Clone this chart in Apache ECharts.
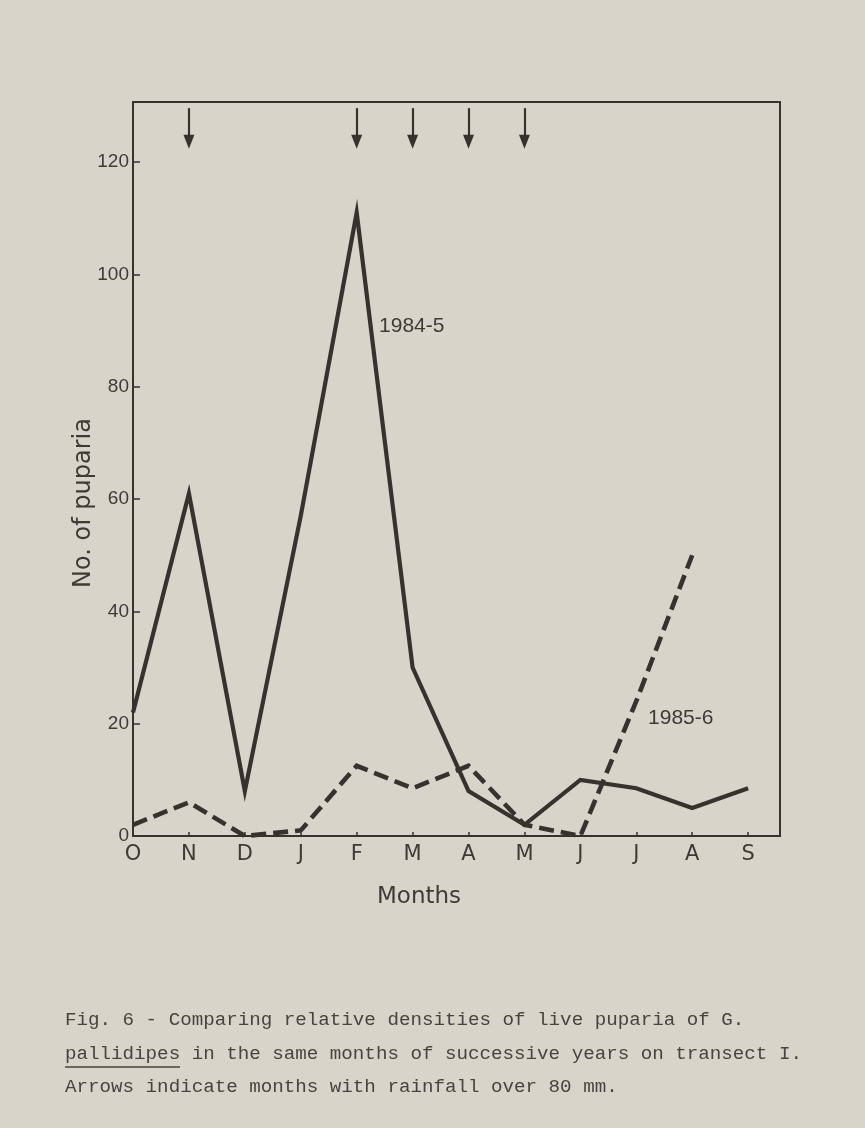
<!DOCTYPE html>
<html>
<head>
<meta charset="utf-8">
<script src="https://cdn.jsdelivr.net/npm/echarts@6/dist/echarts.min.js"></script>
<style>
  html, body { margin: 0; padding: 0; background: #d9d4ca; }
  #chart { width: 865px; height: 1128px; }
</style>
</head>
<body>
<div id="chart"></div>
<script>
// Month categories, October to September
const months = ['O', 'N', 'D', 'J', 'F', 'M', 'A', 'M', 'J', 'J', 'A', 'S'];
// Live puparia counts, 1984-5 season
const counts1984 = [22, 61, 8, 57, 111, 30, 8, 2, 10, 8.5, 5, 8.5];
// Live puparia counts, 1985-6 season (no September value)
const counts1985 = [2, 6, 0, 1, 12.5, 8.5, 12.5, 2, 0, 24, 50, null];
// Months with rainfall over 80 mm (index into months)
const rainMonths = [1, 4, 5, 6, 7];
// Y axis tick values
const yTicks = [0, 20, 40, 60, 80, 100, 120];
// Series labels and where they sit (data coords)
const seriesNames = ['1984-5', '1985-6'];
const seriesLabelAt = [[4.4, 90.8], [9.21, 21]];

const ink = '#37322e';
const textInk = '#3f3a36';
const sansFont = 'DejaVu Sans';

const chart = echarts.init(document.getElementById('chart'), null, { renderer: 'canvas' });

// Rainfall arrows drawn as short downward lines above each month
const arrowLines = rainMonths.map(m => [
  { coord: [m, 129.6] },
  { coord: [m, 123.6] }
]);

chart.setOption({
  backgroundColor: '#d9d4ca',
  animation: false,
  grid: {
    left: 133, right: 85, top: 102, bottom: 292,
    show: true, borderColor: ink, borderWidth: 2, backgroundColor: 'transparent'
  },
  xAxis: {
    type: 'value', min: 0, max: 11.57,
    splitLine: { show: false },
    axisLine: { show: true, onZero: false, lineStyle: { color: ink, width: 2 } },
    axisTick: { show: true, inside: true, length: 4, customValues: months.map((_, i) => i), lineStyle: { color: ink, width: 1.5 } },
    axisLabel: {
      customValues: months.map((_, i) => i),
      formatter: v => months[Math.round(v)],
      color: textInk, fontFamily: sansFont, fontSize: 21, margin: 8
    }
  },
  yAxis: {
    type: 'value', min: 0, max: 130.7,
    splitLine: { show: false },
    axisLine: { show: true, onZero: false, lineStyle: { color: ink, width: 2 } },
    axisTick: { show: true, inside: true, length: 7, customValues: yTicks, lineStyle: { color: ink, width: 1.5 } },
    axisLabel: {
      customValues: yTicks,
      color: textInk, fontFamily: 'Liberation Sans', fontSize: 19, margin: 4
    }
  },
  series: [
    {
      name: seriesNames[0],
      type: 'line',
      data: counts1984.map((v, i) => [i, v]),
      symbol: 'none',
      lineStyle: { color: ink, width: 4.2, join: 'miter', miterLimit: 20 },
      markLine: {
        silent: true,
        symbol: ['none', 'triangle'],
        symbolSize: [11, 14],
        label: { show: false },
        lineStyle: { color: ink, width: 2.2, type: 'solid' },
        data: arrowLines
      }
    },
    {
      name: seriesNames[1],
      type: 'line',
      data: counts1985.map((v, i) => [i, v]),
      symbol: 'none',
      lineStyle: { color: ink, width: 4.6, type: [15, 7], join: 'miter', miterLimit: 20 }
    }
  ]
});

// Series name labels, axis titles and caption
const labelTexts = seriesLabelAt.map((pos, i) => {
  const p = chart.convertToPixel({ gridIndex: 0 }, pos);
  return {
    type: 'text', x: p[0], y: p[1],
    style: { text: seriesNames[i], fill: textInk, font: '21px "Liberation Sans"', textAlign: 'left', textVerticalAlign: 'middle' }
  };
});

const captionLines = [
  'Fig. 6 - Comparing relative densities of live puparia of G.',
  'pallidipes in the same months of successive years on transect I.',
  'Arrows indicate months with rainfall over 80 mm.'
];
const captionFont = '19.2px "Liberation Mono"';
const captionTexts = captionLines.map((t, i) => ({
  type: 'text', x: 65, y: 1020 + i * 33.5,
  style: { text: t, fill: '#48433e', font: captionFont, textAlign: 'left', textVerticalAlign: 'middle' }
}));

chart.setOption({
  graphic: [
    ...labelTexts,
    {
      type: 'text', x: 84, y: 503, rotation: Math.PI / 2,
      style: { text: 'No. of puparia', fill: textInk, font: '24px "DejaVu Sans"', textAlign: 'center', textVerticalAlign: 'middle' }
    },
    {
      type: 'text', x: 419, y: 897,
      style: { text: 'Months', fill: textInk, font: '23px "DejaVu Sans"', textAlign: 'center', textVerticalAlign: 'middle' }
    },
    ...captionTexts,
    {
      type: 'line',
      shape: { x1: 65, y1: 1067, x2: 180, y2: 1067 },
      style: { stroke: '#48433e', lineWidth: 1.5 }
    }
  ]
});
</script>
</body>
</html>
